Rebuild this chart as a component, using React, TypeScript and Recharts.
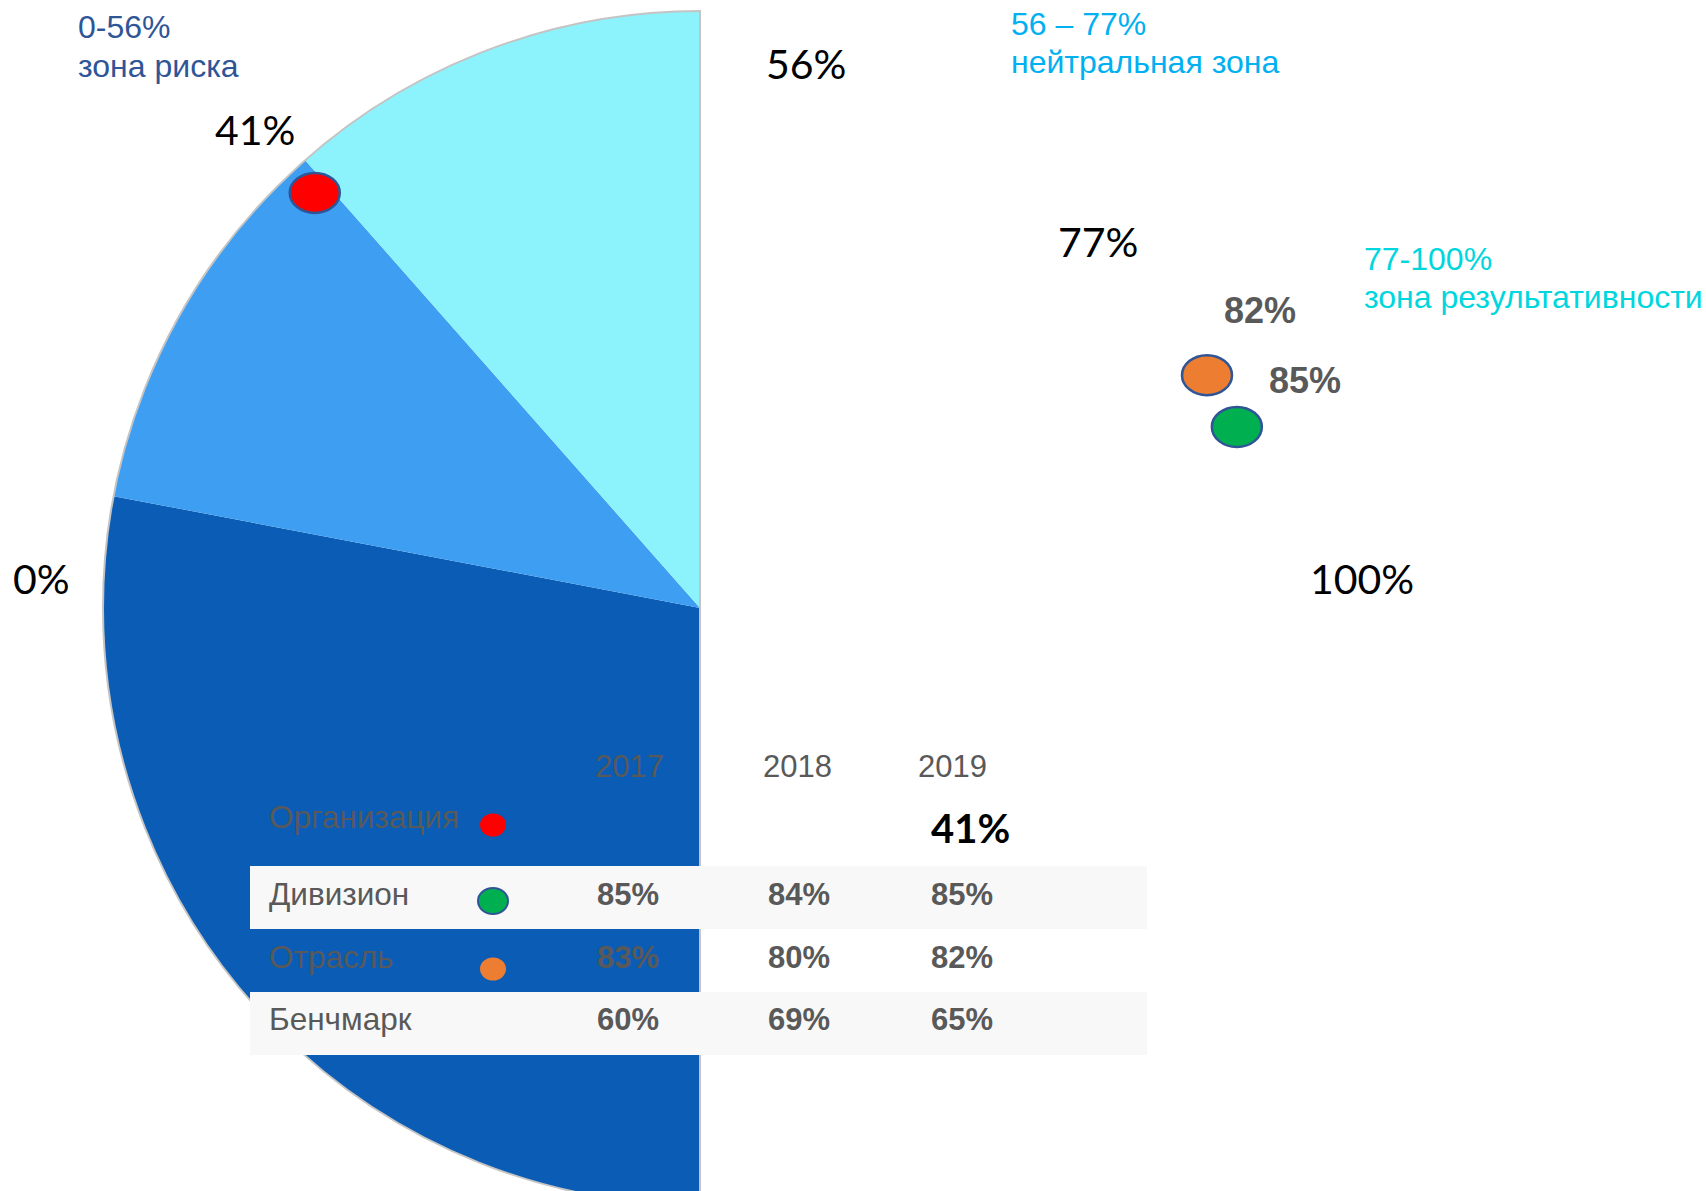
import React from 'react';
import { PieChart, Pie, Cell, ScatterChart, Scatter, XAxis, YAxis } from 'recharts';

const W = 1706;
const H = 1191;

// gauge zones, share of the half circle in %
const zoneRanges = ['0-56%', '56 – 77%', '77-100%'];
const zoneNames = ['зона риска', 'нейтральная зона', 'зона результативности'];
const zoneShares = [56, 21, 23];
const zoneColors = ['#0B5CB5', '#3D9EF2', '#8CF3FC'];
const zoneTextColors = ['#2F5597', '#00B0F0', '#00D6DE'];

// scale marks
const scaleTicks = ['0%', '41%', '56%', '77%', '100%'];

// table
const years = ['2017', '2018', '2019'];
const rowNames = ['Организация', 'Дивизион', 'Отрасль', 'Бенчмарк'];
const orgValues = [null, null, 41];
const divisionValues = [85, 84, 85];
const industryValues = [83, 80, 82];
const benchmarkValues = [60, 69, 65];
const rowDotColors = ['#FF0000', '#00B050', '#ED7D31', null];

// markers on the gauge (position in % of the picture)
const markerNames = ['Организация', 'Отрасль', 'Дивизион'];
const markerX = [18.45, 70.75, 72.5];
const markerY = [16.2, 31.5, 35.85];
const markerColors = ['#FF0000', '#ED7D31', '#00B050'];
const markerLabels = ['', '82%', '85%'];

const arial = '"Liberation Sans", Arial, sans-serif';
const calibri = 'Lato, "Open Sans", sans-serif';
const gray = '#595959';

const zoneData = zoneShares.map((v, i) => ({ name: zoneRanges[i], value: v }));
const outlineData = [{ name: 'all', value: zoneShares.reduce((a, b) => a + b, 0) }];
const markerData = markerNames.map((n, i) => ({ name: n, x: markerX[i], y: markerY[i], color: markerColors[i] }));

const MarkerShape = (props: any) => {
  const { cx, cy, payload } = props;
  return <ellipse cx={cx} cy={cy} rx={25} ry={20} fill={payload.color} stroke="#2F5597" strokeWidth={2.5} />;
};

const tableRows = [orgValues, divisionValues, industryValues, benchmarkValues];
const rowBaselines = [828, 905, 968, 1030];
const dotY = [825, 901, 969, 0];
const colX = [597, 768, 931];
const yearX = [595, 763, 918];

export default function App() {
  return (
    <div style={{ position: 'absolute', left: 0, top: 0, width: W, height: H, overflow: 'hidden', background: '#fff' }}>
      <div style={{ position: 'absolute', left: 0, top: 0 }}>
        <PieChart width={W} height={H} margin={{ top: 0, right: 0, bottom: 0, left: 0 }}>
          <Pie
            data={zoneData}
            dataKey="value"
            cx={700}
            cy={608}
            innerRadius={0}
            outerRadius={597}
            startAngle={270}
            endAngle={90}
            stroke="none"
            isAnimationActive={false}
          >
            {zoneData.map((d, i) => (
              <Cell key={d.name} fill={zoneColors[i]} />
            ))}
          </Pie>
          <Pie
            data={outlineData}
            dataKey="value"
            cx={700}
            cy={608}
            innerRadius={0}
            outerRadius={597}
            startAngle={270}
            endAngle={90}
            fill="none"
            stroke="#C4C4C4"
            strokeWidth={2}
            isAnimationActive={false}
          />
        </PieChart>
      </div>

      <svg width={W} height={H} style={{ position: 'absolute', left: 0, top: 0 }}>
        {/* zone captions */}
        <text x={78} y={38} fontFamily={arial} fontSize={32} fill={zoneTextColors[0]}>{zoneRanges[0]}</text>
        <text x={78} y={77} fontFamily={arial} fontSize={32} fill={zoneTextColors[0]}>{zoneNames[0]}</text>
        <text x={1011} y={35} fontFamily={arial} fontSize={32} fill={zoneTextColors[1]}>{zoneRanges[1]}</text>
        <text x={1011} y={73} fontFamily={arial} fontSize={32} fill={zoneTextColors[1]}>{zoneNames[1]}</text>
        <text x={1364} y={270} fontFamily={arial} fontSize={32} fill={zoneTextColors[2]}>{zoneRanges[2]}</text>
        <text x={1364} y={308} fontFamily={arial} fontSize={32} fill={zoneTextColors[2]}>{zoneNames[2]}</text>

        {/* scale marks */}
        <text x={13} y={594} fontFamily={calibri} fontSize={41} fill="#000">{scaleTicks[0]}</text>
        <text x={215} y={145} fontFamily={calibri} fontSize={41} fill="#000">{scaleTicks[1]}</text>
        <text x={766} y={79} fontFamily={calibri} fontSize={41} fill="#000">{scaleTicks[2]}</text>
        <text x={1058} y={257} fontFamily={calibri} fontSize={41} fill="#000">{scaleTicks[3]}</text>
        <text x={1310} y={594} fontFamily={calibri} fontSize={41} fill="#000">{scaleTicks[4]}</text>

        {/* table bands */}
        <rect x={250} y={866} width={897} height={63} fill="#F8F8F8" />
        <rect x={250} y={992} width={897} height={63} fill="#F8F8F8" />

        {years.map((y, i) => (
          <text key={y} x={yearX[i]} y={777} fontFamily={arial} fontSize={31} fill={gray}>{y}</text>
        ))}
        {rowNames.map((n, r) => (
          <g key={n}>
            <text x={269} y={rowBaselines[r]} fontFamily={arial} fontSize={31.5} fill={gray}>{n}</text>
            {rowDotColors[r] && (
              <ellipse
                cx={493}
                cy={dotY[r]}
                rx={r === 1 ? 15 : 13}
                ry={r === 1 ? 13 : 11.5}
                fill={rowDotColors[r] as string}
                stroke={r === 1 ? '#2F5597' : 'none'}
                strokeWidth={2}
              />
            )}
            {tableRows[r].map((v, c) =>
              v == null ? null : r === 0 ? (
                <text key={c} x={colX[c]} y={843} fontFamily={calibri} fontWeight="bold" fontSize={40} fill="#000">{v}%</text>
              ) : (
                <text key={c} x={colX[c]} y={rowBaselines[r]} fontFamily={arial} fontWeight="bold" fontSize={31} fill={gray}>{v}%</text>
              )
            )}
          </g>
        ))}

        {/* marker captions */}
        <text x={1224} y={323} fontFamily={arial} fontWeight="bold" fontSize={36} fill={gray}>{markerLabels[1]}</text>
        <text x={1269} y={393} fontFamily={arial} fontWeight="bold" fontSize={36} fill={gray}>{markerLabels[2]}</text>
      </svg>

      <div style={{ position: 'absolute', left: 0, top: 0 }}>
        <ScatterChart width={W} height={H} margin={{ top: 0, right: 0, bottom: 0, left: 0 }}>
          <XAxis type="number" dataKey="x" domain={[0, 100]} hide />
          <YAxis type="number" dataKey="y" domain={[0, 100]} reversed hide />
          <Scatter data={markerData} shape={MarkerShape} isAnimationActive={false} />
        </ScatterChart>
      </div>
    </div>
  );
}
